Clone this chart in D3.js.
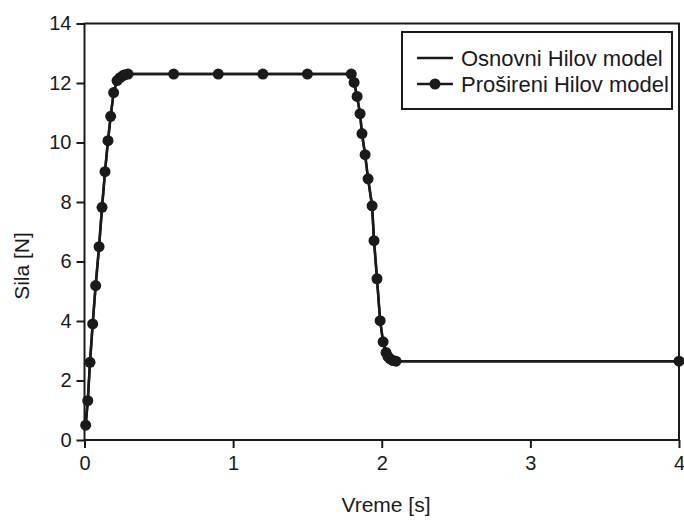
<!DOCTYPE html>
<html>
<head>
<meta charset="utf-8">
<script src="https://cdn.jsdelivr.net/npm/d3@7"></script>
<style>
  html, body { margin: 0; padding: 0; background: #fff; }
  svg { display: block; }
  text { font-family: "Liberation Sans", Arial, sans-serif; fill: #1a1a1a; }
</style>
</head>
<body>
<svg id="chart" width="684" height="520"></svg>
<script>
// ---- data ----
const timeS = [0.008, 0.022, 0.037, 0.055, 0.075, 0.098, 0.118, 0.138, 0.158, 0.176, 0.196,
               0.219, 0.239, 0.259, 0.273, 0.293,
               0.6, 0.9, 1.2, 1.5, 1.795,
               1.814, 1.834, 1.854, 1.867, 1.888, 1.908, 1.935, 1.948, 1.968, 1.989,
               2.009, 2.029, 2.042, 2.056, 2.076, 2.096, 4.0];
const forceProsireni = [0.5, 1.32, 2.61, 3.90, 5.19, 6.50, 7.82, 9.02, 10.06, 10.88, 11.68,
               12.08, 12.18, 12.25, 12.28, 12.3,
               12.3, 12.3, 12.3, 12.3, 12.3,
               12.02, 11.55, 10.97, 10.30, 9.59, 8.78, 7.87, 6.70, 5.42, 4.01,
               3.30, 2.94, 2.80, 2.73, 2.67, 2.65, 2.65];
const forceOsnovni = forceProsireni.slice();
const seriesNames = ["Osnovni Hilov model", "Prošireni Hilov model"];
const xTicks = [0, 1, 2, 3, 4];
const yTicks = [0, 2, 4, 6, 8, 10, 12, 14];
const xTitle = "Vreme [s]";
const yTitle = "Sila [N]";

// ---- layout ----
const svg = d3.select("#chart");
const L = 84.5, R = 679, T = 23.5, B = 440;
const ink = "#1a1a1a";
const x = d3.scaleLinear().domain([0, 4]).range([L, R]);
const y = d3.scaleLinear().domain([0, 14]).range([B, T]);

// axes
const xAxis = svg.append("g").attr("transform", `translate(0,${B})`)
  .call(d3.axisBottom(x).tickValues(xTicks).tickSize(8).tickPadding(8).tickFormat(d3.format("d")));
const yAxis = svg.append("g").attr("transform", `translate(${L},0)`)
  .call(d3.axisLeft(y).tickValues(yTicks).tickSize(8).tickPadding(5).tickFormat(d3.format("d")));
[xAxis, yAxis].forEach(g => {
  g.select(".domain").remove();
  g.selectAll(".tick line").attr("stroke", ink).attr("stroke-width", 2);
  g.selectAll(".tick text").attr("font-size", 20).attr("font-family", "Liberation Sans, Arial, sans-serif").attr("fill", ink);
});

// frame
svg.append("rect").attr("x", L).attr("y", T).attr("width", R - L).attr("height", B - T)
  .attr("fill", "none").attr("stroke", ink).attr("stroke-width", 2);

// lines
const pts = timeS.map((t, i) => ({t, a: forceOsnovni[i], b: forceProsireni[i]}));
const lineA = d3.line().x(d => x(d.t)).y(d => y(d.a));
const lineB = d3.line().x(d => x(d.t)).y(d => y(d.b));
svg.append("path").datum(pts).attr("d", lineA).attr("fill", "none").attr("stroke", ink).attr("stroke-width", 2.5);
svg.append("path").datum(pts).attr("d", lineB).attr("fill", "none").attr("stroke", ink).attr("stroke-width", 2.5);
svg.append("g").selectAll("circle").data(pts).join("circle")
  .attr("cx", d => x(d.t)).attr("cy", d => y(d.b)).attr("r", 5.5).attr("fill", ink);

// axis titles
svg.append("text").attr("x", 386).attr("y", 512).attr("text-anchor", "middle").attr("font-size", 21).text(xTitle);
svg.append("text").attr("transform", "translate(29,266) rotate(-90)").attr("text-anchor", "middle").attr("font-size", 21).text(yTitle);

// legend
const lg = svg.append("g");
lg.append("rect").attr("x", 402).attr("y", 32).attr("width", 270).attr("height", 77)
  .attr("fill", "#fff").attr("stroke", ink).attr("stroke-width", 2);
const rows = [58, 84];
seriesNames.forEach((name, i) => {
  lg.append("line").attr("x1", 417).attr("x2", 453).attr("y1", rows[i]).attr("y2", rows[i])
    .attr("stroke", ink).attr("stroke-width", 2.5);
  if (i === 1) lg.append("circle").attr("cx", 435).attr("cy", rows[i]).attr("r", 5.5).attr("fill", ink);
  lg.append("text").attr("x", 461).attr("y", rows[i]).attr("dy", "0.35em").attr("font-size", 22).text(name);
});
</script>
</body>
</html>
